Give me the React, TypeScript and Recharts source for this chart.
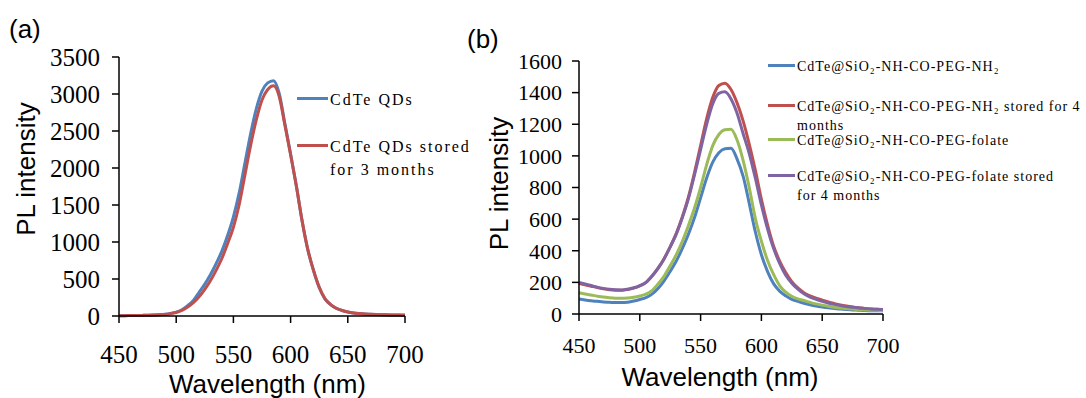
import React from "react";
import { LineChart, Line, XAxis, YAxis, Legend } from "recharts";

// wavelength grid (nm), shared by both panels
const WAVELENGTH = [
  450, 455, 460, 465, 470, 475, 480, 485, 490, 495,
  500, 505, 510, 515, 520, 525, 530, 535, 540, 545,
  550, 555, 560, 565, 570, 575, 580, 585, 590, 595,
  600, 605, 610, 615, 620, 625, 630, 635, 640, 645,
  650, 655, 660, 665, 670, 675, 680, 685, 690, 695,
  700,
];
const X_TICKS = [450, 500, 550, 600, 650, 700];

// panel (a)
const QD = [
  5, 5, 6, 7, 8, 10, 13, 18, 24, 35,
  52, 85, 140, 210, 320, 430, 560, 710, 880, 1090,
  1340, 1660, 2060, 2460, 2800, 3040, 3150, 3180, 3010, 2600,
  2190, 1760, 1290, 900, 615, 385, 232, 153, 104, 74,
  54, 41, 33, 27, 23, 19, 17, 15, 13, 12,
  11,
];
const QD_STORED = [
  5, 5, 6, 7, 8, 10, 13, 17, 22, 32,
  48, 75, 120, 180, 260, 360, 480, 620, 780, 980,
  1200, 1500, 1900, 2300, 2650, 2920, 3060, 3110, 2970, 2580,
  2180, 1760, 1290, 900, 620, 390, 235, 155, 105, 75,
  55, 42, 34, 28, 24, 20, 18, 16, 14, 13,
  12,
];
const A_Y_TICKS = [0, 500, 1000, 1500, 2000, 2500, 3000, 3500];

// panel (b)
const NH2 = [
  95, 89, 84, 80, 76, 74, 72, 72, 75, 82,
  92, 104, 126, 162, 210, 270, 335, 415, 505, 610,
  735, 860, 960, 1020, 1045, 1048, 980, 870, 700, 520,
  375, 270, 192, 145, 115, 93, 80, 68, 58, 50,
  44, 39, 35, 31, 28, 26, 24, 22, 21, 20,
  20,
];
const NH2_STORED = [
  195, 185, 176, 167, 159, 153, 150, 150, 155, 164,
  178, 198, 238, 288, 350, 425, 510, 615, 740, 895,
  1065, 1235, 1370, 1445, 1460, 1420, 1335, 1220, 1075, 910,
  725, 565, 430, 335, 262, 205, 165, 135, 115, 100,
  88, 76, 66, 57, 50, 44, 39, 35, 32, 30,
  28,
];
const FOLATE = [
  135, 127, 120, 113, 107, 103, 100, 99, 101, 106,
  114, 125, 148, 190, 240, 305, 375, 460, 560, 670,
  800, 945, 1065, 1135, 1165, 1168, 1100, 970, 800, 605,
  460, 340, 250, 180, 138, 112, 96, 85, 74, 64,
  56, 49, 43, 38, 34, 31, 28, 26, 24, 23,
  22,
];
const FOLATE_STORED = [
  200, 190, 180, 170, 162, 156, 153, 152, 157, 166,
  180, 200, 240, 290, 350, 425, 505, 610, 730, 880,
  1040, 1200, 1330, 1395, 1405, 1360, 1270, 1140, 1015, 860,
  690, 540, 415, 320, 245, 195, 157, 128, 107, 92,
  80, 70, 61, 53, 47, 42, 38, 35, 32, 30,
  29,
];
const B_Y_TICKS = [0, 200, 400, 600, 800, 1000, 1200, 1400, 1600];

const dataA = WAVELENGTH.map((w, i) => ({ w, qd: QD[i], qdStored: QD_STORED[i] }));
const dataB = WAVELENGTH.map((w, i) => ({
  w,
  nh2: NH2[i],
  nh2Stored: NH2_STORED[i],
  folate: FOLATE[i],
  folateStored: FOLATE_STORED[i],
}));

const SANS = '"Liberation Sans", Arial, sans-serif';
const SERIF = '"Liberation Serif", "Times New Roman", serif';

// legend drawn like the original: short line, then (possibly two-line) label
function makeLegend(fontSize: number, spacing: number, lineH: number, lineW: number, rowHeights: number[]) {
  return (props: any) => {
    const payload = props.payload || [];
    return (
      <div style={{ fontFamily: SERIF, fontSize, letterSpacing: spacing, lineHeight: lineH + "px", color: "#000" }}>
        {payload.map((entry: any, i: number) => (
          <div key={i} style={{ display: "flex", alignItems: "flex-start", height: rowHeights[i] }}>
            <svg width={lineW} height={lineH} style={{ flex: "none" }}>
              <line x1={0} x2={lineW} y1={lineH / 2 - 1} y2={lineH / 2 - 1} stroke={entry.color} strokeWidth={3} />
            </svg>
            <span style={{ whiteSpace: "pre", marginLeft: 2 }}>{String(entry.value)}</span>
          </div>
        ))}
      </div>
    );
  };
}

// serif tick labels
function makeTick(fontSize: number, side: "x" | "y") {
  return (props: any) => {
    const { x, y, payload } = props;
    return (
      <text x={x} y={y} textAnchor={side === "x" ? "middle" : "end"}
        dy={side === "x" ? "0.71em" : "0.355em"} fill="#000"
        style={{ fontFamily: SERIF, fontSize }}>
        {payload.value}
      </text>
    );
  };
}

function xTitle(dx: number, baseline: number) {
  return (props: any) => {
    const vb = props.viewBox || { x: 0, y: 0, width: 0, height: 0 };
    return (
      <text x={vb.x + vb.width / 2 + dx} y={vb.y + baseline} textAnchor="middle" fill="#000"
        style={{ fontFamily: SANS, fontSize: 26 }}>
        Wavelength (nm)
      </text>
    );
  };
}

function yTitle(baseX: number, dy: number) {
  return (props: any) => {
    const vb = props.viewBox || { x: 0, y: 0, width: 0, height: 0 };
    const x = vb.x + baseX;
    const y = vb.y + vb.height / 2 + dy;
    return (
      <text x={x} y={y} textAnchor="middle" fill="#000" transform={`rotate(-90, ${x}, ${y})`}
        style={{ fontFamily: SANS, fontSize: 26 }}>
        PL intensity
      </text>
    );
  };
}

const axisLine = { stroke: "#000", strokeWidth: 1.5 };
const tickLine = { stroke: "#000", strokeWidth: 1.5 };

function PanelA() {
  return (
    <LineChart width={480} height={398} data={dataA} margin={{ top: 57, right: 75, bottom: 0, left: 0 }}>
      <XAxis dataKey="w" type="number" domain={[450, 700]} ticks={X_TICKS} height={82}
        axisLine={axisLine} tickLine={tickLine} tickSize={7} tickMargin={22}
        tick={makeTick(25, "x")} label={{ content: xTitle(5.5, 77) }} />
      <YAxis type="number" domain={[0, 3500]} ticks={A_Y_TICKS} width={119} interval={0}
        axisLine={axisLine} tickLine={tickLine} tickSize={7} tickMargin={12}
        tick={makeTick(25, "y")} label={{ content: yTitle(35, -17.5) }} />
      <Legend layout="vertical" align="center" verticalAlign="middle"
        wrapperStyle={{ left: 297, top: 88, width: 180 }}
        content={makeLegend(16, 2, 23, 31, [47, 46])} />
      <Line type="monotone" dataKey="qd" name="CdTe QDs" stroke="#4F81BD" strokeWidth={3}
        dot={false} activeDot={false} isAnimationActive={false} />
      <Line type="monotone" dataKey="qdStored" name={"CdTe QDs stored\nfor 3 months"} stroke="#C0504D"
        strokeWidth={3} dot={false} activeDot={false} isAnimationActive={false} />
    </LineChart>
  );
}

function PanelB() {
  return (
    <LineChart width={626} height={398} data={dataB} margin={{ top: 61, right: 203, bottom: 0, left: 0 }}>
      <XAxis dataKey="w" type="number" domain={[450, 700]} ticks={X_TICKS} height={84}
        axisLine={axisLine} tickLine={tickLine} tickSize={7} tickMargin={16.5}
        tick={makeTick(22, "x")} label={{ content: xTitle(-11, 71.6) }} />
      <YAxis type="number" domain={[0, 1600]} ticks={B_Y_TICKS} width={119} interval={0}
        axisLine={axisLine} tickLine={tickLine} tickSize={7} tickMargin={10}
        tick={makeTick(22, "y")} label={{ content: yTitle(47.6, -4) }} />
      <Legend layout="vertical" align="center" verticalAlign="middle"
        wrapperStyle={{ left: 308, top: 56.5, width: 318 }}
        content={makeLegend(14, 1.0, 19, 27, [40, 34, 36, 40])} />
      <Line type="monotone" dataKey="nh2" name="CdTe@SiO₂-NH-CO-PEG-NH₂" stroke="#4F81BD" strokeWidth={3}
        dot={false} activeDot={false} isAnimationActive={false} />
      <Line type="monotone" dataKey="nh2Stored" name={"CdTe@SiO₂-NH-CO-PEG-NH₂ stored for 4\nmonths"}
        stroke="#C0504D" strokeWidth={3} dot={false} activeDot={false} isAnimationActive={false} />
      <Line type="monotone" dataKey="folate" name="CdTe@SiO₂-NH-CO-PEG-folate" stroke="#9BBB59" strokeWidth={3}
        dot={false} activeDot={false} isAnimationActive={false} />
      <Line type="monotone" dataKey="folateStored" name={"CdTe@SiO₂-NH-CO-PEG-folate stored\nfor 4 months"}
        stroke="#8064A2" strokeWidth={3} dot={false} activeDot={false} isAnimationActive={false} />
    </LineChart>
  );
}

export default function App() {
  return (
    <div style={{ position: "absolute", left: 0, top: 0, width: 1086, height: 398, background: "#fff", overflow: "hidden" }}>
      <div style={{ position: "absolute", left: 9, top: 14, fontFamily: SANS, fontSize: 26, lineHeight: "30px" }}>(a)</div>
      <div style={{ position: "absolute", left: 467, top: 24, fontFamily: SANS, fontSize: 26, lineHeight: "30px" }}>(b)</div>
      <div style={{ position: "absolute", left: 0, top: 0 }}>
        <PanelA />
      </div>
      <div style={{ position: "absolute", left: 460, top: 0 }}>
        <PanelB />
      </div>
    </div>
  );
}
